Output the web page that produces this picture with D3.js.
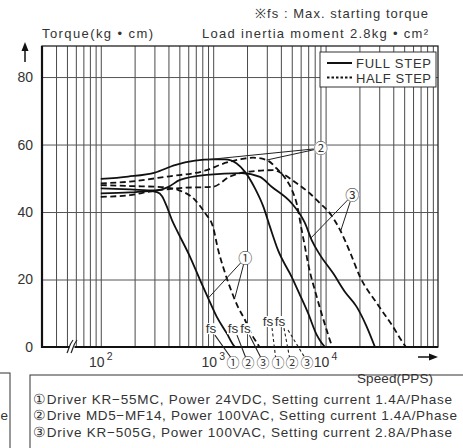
<!DOCTYPE html>
<html><head><meta charset="utf-8">
<script src="https://cdn.jsdelivr.net/npm/d3@7"></script>
<style>
body{margin:0;background:#fff}
svg{display:block}
text{font-family:"Liberation Sans",Arial,sans-serif;fill:#333}
.cj{font-family:"Noto Sans CJK KR","DejaVu Sans",sans-serif}
</style>
</head><body>
<svg id="c" width="463" height="448"></svg>
<script>
// ---------- data ----------
const yTicks = [0, 20, 40, 60, 80];
const yGrid = [20, 40, 60, 80];
const xDecades = [100, 1000, 10000];
const xDecadeExp = ["2", "3", "4"];
const xGrid = [40,50,60,70,80,90,100,200,300,400,500,600,700,800,900,
  1000,2000,3000,4000,5000,6000,7000,8000,9000,
  10000,20000,30000,40000,50000,60000,70000,80000,90000];

// speed (PPS), torque (kg·cm)
const driver1Full = [[100,45.5],[182,45.8],[274,46.2],[316,45.9],[351,44.7],[388,41.5],[430,37.6],[473,34.7],[621,26.8],[763,19.9],[904,14.4],[1074,9.0],[1318,4.1],[1510,0.6],[1563,0]];
const driver1Half = [[100,48.0],[182,47.7],[348,47.4],[490,46.5],[688,43.6],[845,39.7],[996,35.6],[1109,28.7],[1250,22.8],[1440,16.9],[1660,11.9],[1920,8.0],[2170,4.1],[2450,1.2],[2580,0]];
const driver2Full = [[100,49.8],[175,50.5],[303,51.7],[457,53.9],[688,55.2],[996,55.6],[1274,55.6],[1618,54.4],[1919,51.9],[2355,47.0],[2794,41.6],[3202,35.6],[3774,28.7],[4990,20.8],[5918,15.4],[6970,10.1],[8340,3.6],[9100,1.5],[9880,0]];
const driver2Half = [[100,48.5],[182,49.0],[385,50.5],[875,52.4],[1197,54.2],[1730,55.6],[2260,56.1],[2993,55.4],[3673,52.9],[4355,50.1],[5025,46.5],[5570,42.1],[6125,34.7],[6560,29.6],[6970,24.9],[8340,14.9],[9290,9.5],[10230,5.0],[11320,0.6],[11510,0]];
const driver3Full = [[100,47.0],[182,46.7],[303,46.4],[396,47.4],[507,49.5],[875,51.0],[1795,51.5],[2606,50.4],[3311,47.5],[4990,42.6],[6560,36.7],[7520,31.7],[8910,27.3],[11640,21.9],[14890,16.3],[18920,11.9],[22880,6.5],[27480,0]];
const driver3Half = [[100,44.5],[182,45.0],[265,46.0],[507,47.1],[996,47.5],[1409,50.5],[2124,52.0],[3404,52.4],[4063,51.5],[5530,48.5],[7260,45.5],[8910,42.6],[10930,39.6],[13430,34.7],[16490,28.1],[20240,20.8],[28510,13.0],[39800,6.0],[48900,1.2],[51960,0]];

// callouts: label position [speed, torque] and the curve points they point to
const callouts = [
  {num:"①", at:[1930,26.4], to:[[904,14.5],[1560,14.6]]},
  {num:"②", at:[9050,58.9], to:[[880,55.5],[2990,55.4]]},
  {num:"③", at:[17300,45.0], to:[[7400,32.3],[13600,34.3]]}
];
// fs (max starting) labels and the driver numbers under the axis
const fsLabelSpeeds = [955, 1500, 1937, 3076, 3930, null];
const fsLabelTorque = [4.1, 4.1, 4.1, 6.2, 6.2, 6.2];
const fsCircleSpeeds = [1500, 2040, 2775, 3775, 5020, 6825];
const fsCircleNums = ["①","②","③","①","②","③"];
const fsHalf = [false,false,false,true,true,true];

const notes = [
  "①Driver KR−55MC, Power 24VDC, Setting current 1.4A/Phase",
  "②Drive MD5−MF14, Power 100VAC, Setting current 1.4A/Phase",
  "③Drive KR−505G, Power 100VAC, Setting current 2.8A/Phase"
];

// ---------- drawing ----------
const svg = d3.select("#c");
const L = 42, R = 438, T = 46, B = 347;
const x = d3.scaleLog().domain([30, 100000]).range([L, R]);
const y = d3.scaleLinear().domain([0, 89.2]).range([B, T]);

// grid
svg.append("g").attr("transform", `translate(0,${B})`)
  .call(d3.axisBottom(x).tickValues(xGrid).tickSize(-(B - T)).tickFormat(""))
  .call(g => g.select(".domain").remove())
  .call(g => g.selectAll("line").attr("stroke", "#4a4a4a").attr("stroke-width", 1));
svg.append("g").attr("transform", `translate(${L},0)`)
  .call(d3.axisLeft(y).tickValues(yGrid).tickSize(-(R - L)).tickFormat(""))
  .call(g => g.select(".domain").remove())
  .call(g => g.selectAll("line").attr("stroke", "#555").attr("stroke-width", 1));

// frame
svg.append("rect").attr("x", L).attr("y", T).attr("width", R - L).attr("height", B - T)
  .attr("fill", "none").attr("stroke", "#222").attr("stroke-width", 1.3);
svg.append("line").attr("x1", L).attr("x2", L).attr("y1", T).attr("y2", B + 1).attr("stroke", "#111").attr("stroke-width", 2.2);
svg.append("line").attr("x1", L - 1).attr("x2", R).attr("y1", B).attr("y2", B).attr("stroke", "#111").attr("stroke-width", 2.2);

// axis break
const bx = 72;
svg.append("rect").attr("x", bx - 2.5).attr("y", B - 3).attr("width", 5).attr("height", 6).attr("fill", "#fff");
[-2, 2].forEach(d => svg.append("path")
  .attr("d", `M${bx + d - 3},${B + 6} C${bx + d - 1},${B + 2} ${bx + d - 1},${B - 2} ${bx + d + 3},${B - 7}`)
  .attr("fill", "none").attr("stroke", "#222").attr("stroke-width", 1.2));

// y labels
svg.append("g").attr("transform", `translate(${L},0)`)
  .call(d3.axisLeft(y).tickValues(yTicks).tickSize(0).tickPadding(9).tickFormat(d3.format("d")))
  .call(g => g.select(".domain").remove())
  .call(g => g.selectAll("text").attr("font-size", 14).attr("fill", "#333")
    .attr("font-family", "Liberation Sans, Arial, sans-serif"));

// x labels (10^n)
xDecades.forEach((d, i) => {
  svg.append("text").attr("x", x(d) - 4).attr("y", 367).attr("text-anchor", "middle")
    .attr("font-size", 14).text("10");
  svg.append("text").attr("x", x(d) + 6).attr("y", 360).attr("font-size", 10.5).text(xDecadeExp[i]);
});

// curves
const line = d3.line().x(d => x(d[0])).y(d => y(d[1])).curve(d3.curveMonotoneX);
const series = [
  [driver1Full, false], [driver2Full, false], [driver3Full, false],
  [driver1Half, true], [driver2Half, true], [driver3Half, true]
];
series.forEach(([data, dashed]) => {
  svg.append("path").attr("d", line(data)).attr("fill", "none")
    .attr("stroke", "#111").attr("stroke-width", 1.8)
    .attr("stroke-dasharray", dashed ? "6,3.5" : null);
});

// callouts
callouts.forEach(c => {
  const cx = x(c.at[0]), cy = y(c.at[1]);
  c.to.forEach(p => {
    const ang = Math.atan2(y(p[1]) - cy, x(p[0]) - cx);
    svg.append("line").attr("x1", cx + 6 * Math.cos(ang)).attr("y1", cy + 6 * Math.sin(ang))
      .attr("x2", x(p[0])).attr("y2", y(p[1])).attr("stroke", "#222").attr("stroke-width", 1);
  });
  svg.append("circle").attr("cx", cx).attr("cy", cy).attr("r", 7).attr("fill", "#fff");
  svg.append("text").attr("class", "cj").attr("x", cx).attr("y", cy + 5).attr("text-anchor", "middle")
    .attr("font-size", 14).text(c.num);
});

// fs labels and leaders
fsCircleSpeeds.forEach((s, i) => {
  const ex = x(s) - 2.5, ey = 357;
  let sx, sy;
  if (fsLabelSpeeds[i] !== null) {
    sx = x(fsLabelSpeeds[i]) + 4; sy = y(fsLabelTorque[i]) + 2;
  } else {
    sx = x(fsLabelSpeeds[4]) + 8; sy = y(fsLabelTorque[i]) + 4;
  }
  svg.append("line").attr("x1", sx).attr("y1", sy).attr("x2", ex).attr("y2", ey)
    .attr("stroke", "#222").attr("stroke-width", 1.1)
    .attr("stroke-dasharray", fsHalf[i] ? "3,2.5" : null);
});
fsLabelSpeeds.forEach((s, i) => {
  if (s === null) return;
  const tx = x(s), ty = y(fsLabelTorque[i]);
  svg.append("rect").attr("x", tx - 6).attr("y", ty - 10).attr("width", 12).attr("height", 11).attr("fill", "#fff");
  svg.append("text").attr("x", tx).attr("y", ty).attr("text-anchor", "middle").attr("font-size", 13.5).text("fs");
});
fsCircleSpeeds.forEach((s, i) => {
  svg.append("text").attr("class", "cj").attr("x", x(s)).attr("y", 367).attr("text-anchor", "middle")
    .attr("font-size", 13).text(fsCircleNums[i]);
});

// legend
svg.append("rect").attr("x", 320).attr("y", 52).attr("width", 116).attr("height", 35)
  .attr("fill", "#fff").attr("stroke", "#333").attr("stroke-width", 1);
svg.append("line").attr("x1", 327).attr("x2", 352).attr("y1", 63).attr("y2", 63).attr("stroke", "#111").attr("stroke-width", 2);
svg.append("line").attr("x1", 327).attr("x2", 352).attr("y1", 77.5).attr("y2", 77.5).attr("stroke", "#111").attr("stroke-width", 2).attr("stroke-dasharray", "2.5,2");
svg.append("text").attr("x", 356).attr("y", 68).attr("font-size", 13).attr("textLength", 75).attr("lengthAdjust", "spacing").text("FULL STEP");
svg.append("text").attr("x", 356).attr("y", 82.5).attr("font-size", 13).attr("textLength", 75).attr("lengthAdjust", "spacing").text("HALF STEP");

// arrows
svg.append("line").attr("x1", 25).attr("x2", 25).attr("y1", 62).attr("y2", 47).attr("stroke", "#111").attr("stroke-width", 1.5);
svg.append("path").attr("d", "M25,42 L21.5,51 L28.5,51 Z").attr("fill", "#111");
svg.append("line").attr("x1", 418).attr("x2", 432).attr("y1", 357).attr("y2", 357).attr("stroke", "#111").attr("stroke-width", 1.5);
svg.append("path").attr("d", "M438,357 L429,353.5 L429,360.5 Z").attr("fill", "#111");

// header texts
svg.append("text").attr("x", 255).attr("y", 17.5).attr("font-size", 13).attr("textLength", 173).attr("lengthAdjust", "spacing").text("※fs : Max. starting torque");
svg.append("text").attr("x", 202).attr("y", 37.5).attr("font-size", 13).attr("textLength", 226).attr("lengthAdjust", "spacing").text("Load inertia moment 2.8kg • cm²");
svg.append("text").attr("x", 42).attr("y", 37.5).attr("font-size", 13).attr("textLength", 111).attr("lengthAdjust", "spacing").text("Torque(kg • cm)");
svg.append("text").attr("x", 357).attr("y", 383).attr("font-size", 13.5).attr("textLength", 76).attr("lengthAdjust", "spacing").text("Speed(PPS)");

// notes boxes
svg.append("rect").attr("x", -50).attr("y", 373).attr("width", 60).attr("height", 120).attr("fill", "none").attr("stroke", "#333").attr("stroke-width", 1);
svg.append("text").attr("x", 8).attr("y", 420).attr("text-anchor", "end").attr("font-size", 13.5).text("e");
svg.append("rect").attr("x", 30).attr("y", 375).attr("width", 500).attr("height", 120).attr("fill", "none").attr("stroke", "#333").attr("stroke-width", 1);
const noteW = [419, 424, 419];
notes.forEach((t, i) => {
  svg.append("text").attr("x", 33).attr("y", 403.5 + i * 16.8).attr("font-size", 13.5)
    .attr("textLength", noteW[i]).attr("lengthAdjust", "spacing").text(t);
});
</script>
</body></html>
